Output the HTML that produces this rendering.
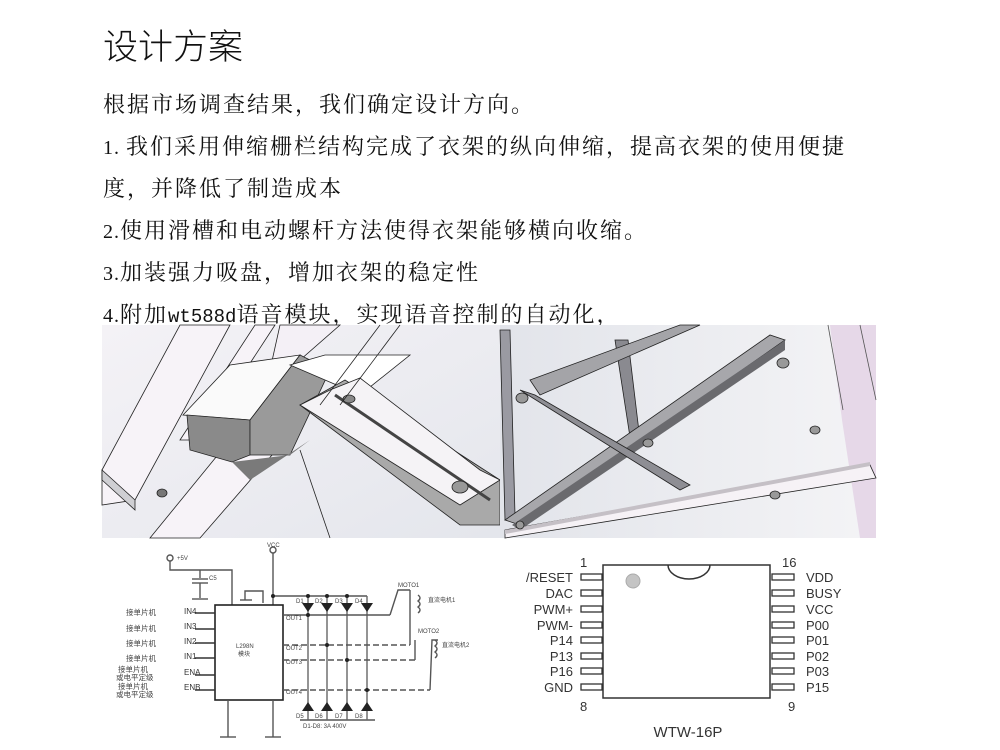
<!DOCTYPE html>
<html><head><meta charset="utf-8">
<style>
body{margin:0;width:1000px;height:750px;background:#fff;position:relative;overflow:hidden;font-family:"Noto Serif CJK SC",serif;color:#111}
.t{position:absolute;left:103px;white-space:nowrap}
.b{font-size:22px;line-height:30px;letter-spacing:2px}
.l{font-family:"Liberation Serif",serif;font-size:20px;letter-spacing:1px}
.m{font-family:"Liberation Mono",monospace;font-size:19px;letter-spacing:0}
svg{position:absolute;left:0;top:0}
</style></head><body>
<div class="t" style="top:23px;font-size:35px;line-height:44px;font-family:'Noto Sans CJK SC',sans-serif;font-weight:300">设计方案</div>
<div class="t b" style="top:89px">根据市场调查结果，我们确定设计方向。</div>
<div class="t b" style="top:131px"><span class="l">1. </span>我们采用伸缩栅栏结构完成了衣架的纵向伸缩，提高衣架的使用便捷</div>
<div class="t b" style="top:173px">度，并降低了制造成本</div>
<div class="t b" style="top:215px"><span class="l">2.</span>使用滑槽和电动螺杆方法使得衣架能够横向收缩。</div>
<div class="t b" style="top:257px"><span class="l">3.</span>加装强力吸盘，增加衣架的稳定性</div>
<div class="t b" style="top:299px"><span class="l">4.</span>附加<span class="m">wt588d</span>语音模块，实现语音控制的自动化，</div>
<svg width="1000" height="750" viewBox="0 0 1000 750">
<defs>
<linearGradient id="g1" x1="0" y1="0" x2="1" y2="1"><stop offset="0" stop-color="#f4f2f6"/><stop offset="1" stop-color="#e4e6ec"/></linearGradient>
<linearGradient id="g2" x1="0" y1="0" x2="1" y2="0"><stop offset="0" stop-color="#e2e4ea"/><stop offset="1" stop-color="#f4f4f6"/></linearGradient>
</defs>
<!-- left render -->
<g stroke="#222" stroke-width="0.8">
<rect x="102" y="325" width="398" height="213" fill="url(#g1)" stroke="none"/>
<polygon points="102,470 180,325 230,325 135,500 102,505" fill="#f7f3f8"/>
<polygon points="102,470 135,500 135,510 102,480" fill="#cfcfd3"/>
<polygon points="150,538 230,440 285,440 200,538" fill="#f7f3f8"/>
<polygon points="255,325 275,325 200,440 180,440" fill="#f7f3f8"/>
<polygon points="280,325 340,325 300,360 270,370" fill="#f4f0f6"/>
<polygon points="183,415 230,365 300,355 250,420" fill="#fafafa"/>
<polygon points="187,415 250,420 250,455 232,462 190,450" fill="#8a8a8a"/>
<polygon points="250,420 300,355 330,370 290,455 250,455" fill="#9a9a9a"/>
<polygon points="290,365 325,355 410,355 360,395" fill="#ffffff"/>
<polygon points="232,462 290,455 310,440 250,480" fill="#7a7a7a" stroke="none"/>
<polygon points="300,405 345,380 500,480 500,525 460,525" fill="#a9a9a9"/>
<polygon points="300,405 330,390 360,378 480,470 500,480 460,505" fill="#f5f3f6"/>
<line x1="335" y1="395" x2="490" y2="500" stroke="#444" stroke-width="3"/>
<ellipse cx="349" cy="399" rx="6" ry="4" fill="#888"/>
<ellipse cx="460" cy="487" rx="8" ry="6" fill="#999"/>
<ellipse cx="162" cy="493" rx="5" ry="4" fill="#777"/>
<line x1="380" y1="325" x2="320" y2="405" />
<line x1="400" y1="325" x2="340" y2="405" />
<line x1="300" y1="450" x2="330" y2="538"/>
</g>
<!-- right render -->
<g stroke="#222" stroke-width="0.8">
<rect x="500" y="325" width="376" height="213" fill="url(#g2)" stroke="none"/>
<polygon points="830,325 876,325 876,538 860,538 842,420" fill="#e6d8e8" stroke="none"/>
<line x1="828" y1="325" x2="843" y2="410" stroke="#555"/>
<line x1="860" y1="325" x2="876" y2="400" stroke="#555"/>
<polygon points="500,330 510,330 515,515 505,520" fill="#9a9aa2"/>
<polygon points="615,340 628,340 640,440 632,450" fill="#8a8a90"/>
<polygon points="505,520 520,525 785,340 770,335" fill="#a7a7ab"/>
<polygon points="778,345 785,340 785,350 520,530 512,525" fill="#6a6a6e" stroke="none"/>
<polygon points="520,390 535,395 690,485 680,490" fill="#8e8e94"/>
<polygon points="530,380 680,325 700,325 540,395" fill="#a4a4a8"/>
<polygon points="505,530 870,465 876,478 505,538" fill="#f6f2f6"/>
<polygon points="505,530 870,462 870,466 505,534" fill="#c5c0c6" stroke="none"/>
<ellipse cx="783" cy="363" rx="6" ry="5" fill="#999"/>
<ellipse cx="522" cy="398" rx="6" ry="5" fill="#999"/>
<ellipse cx="648" cy="443" rx="5" ry="4" fill="#999"/>
<ellipse cx="775" cy="495" rx="5" ry="4" fill="#999"/>
<ellipse cx="815" cy="430" rx="5" ry="4" fill="#999"/>
<ellipse cx="520" cy="525" rx="4" ry="4" fill="#999"/>
</g>
<!-- circuit -->
<g stroke="#555" stroke-width="1.4" fill="none">
<circle cx="170" cy="558" r="3"/>
<polyline points="170,561 170,570 232,570 232,605"/>
<line x1="200" y1="570" x2="200" y2="578"/>
<line x1="192" y1="579" x2="208" y2="579"/><line x1="192" y1="583" x2="208" y2="583"/>
<line x1="200" y1="583" x2="200" y2="598"/><line x1="192" y1="599" x2="208" y2="599"/>
<circle cx="273" cy="550" r="3"/>
<line x1="273" y1="553" x2="273" y2="605"/>
<polyline points="245,600 245,591 263,591 263,603"/><line x1="240" y1="600" x2="252" y2="600"/>
<rect x="215" y="605" width="68" height="95" stroke="#222" stroke-width="1.6"/>
<line x1="228" y1="700" x2="228" y2="737"/><line x1="220" y1="737" x2="236" y2="737"/>
<line x1="273" y1="700" x2="273" y2="737"/><line x1="265" y1="737" x2="281" y2="737"/>
<line x1="273" y1="596" x2="367" y2="596"/>
<line x1="300" y1="720" x2="375" y2="720"/>
<g stroke="#666">
<line x1="308" y1="596" x2="308" y2="720"/><line x1="327" y1="596" x2="327" y2="720"/>
<line x1="347" y1="596" x2="347" y2="720"/><line x1="367" y1="596" x2="367" y2="720"/>
</g>
<line x1="283" y1="615" x2="390" y2="615"/><polyline points="390,615 398,590 410,590"/>
<line x1="283" y1="645" x2="410" y2="645" stroke-dasharray="6,3"/>
<line x1="283" y1="660" x2="415" y2="660" stroke-dasharray="6,3"/>
<line x1="283" y1="690" x2="430" y2="690" stroke-dasharray="6,3"/><polyline points="430,690 432,640 438,640"/>
<polyline points="410,645 410,590"/><polyline points="415,660 415,640"/>
<path d="M418 595 q4 3 0 6 q4 3 0 6 q4 3 0 6"/>
<path d="M435 640 q4 3 0 6 q4 3 0 6 q4 3 0 6"/>
<g stroke="#333">
<line x1="195" y1="613" x2="215" y2="613"/><line x1="195" y1="629" x2="215" y2="629"/>
<line x1="195" y1="643" x2="215" y2="643"/><line x1="195" y1="658" x2="215" y2="658"/>
<line x1="195" y1="675" x2="215" y2="675"/><line x1="195" y1="690" x2="215" y2="690"/>
</g>
</g>
<g fill="#222">
<polygon points="302,603 314,603 308,612"/><polygon points="321,603 333,603 327,612"/>
<polygon points="341,603 353,603 347,612"/><polygon points="361,603 373,603 367,612"/>
<polygon points="302,711 314,711 308,702"/><polygon points="321,711 333,711 327,702"/>
<polygon points="341,711 353,711 347,702"/><polygon points="361,711 373,711 367,702"/>
<circle cx="308" cy="596" r="2"/><circle cx="327" cy="596" r="2"/><circle cx="347" cy="596" r="2"/><circle cx="273" cy="596" r="2"/>
<circle cx="308" cy="615" r="2"/><circle cx="327" cy="645" r="2"/><circle cx="347" cy="660" r="2"/><circle cx="367" cy="690" r="2"/>
</g>
<g font-family="Liberation Sans,'Noto Sans CJK SC',sans-serif" font-size="6" fill="#444">
<text x="177" y="560">+5V</text><text x="267" y="547">VCC</text><text x="209" y="580">C5</text>
<text x="236" y="648">L298N</text><text x="238" y="656">模块</text>
<text x="286" y="620">OUT1</text><text x="286" y="650">OUT2</text><text x="286" y="664">OUT3</text><text x="286" y="694">OUT4</text>
<text x="296" y="603">D1</text><text x="315" y="603">D2</text><text x="335" y="603">D3</text><text x="355" y="603">D4</text>
<text x="296" y="718">D5</text><text x="315" y="718">D6</text><text x="335" y="718">D7</text><text x="355" y="718">D8</text>
<text x="303" y="728">D1-D8: 3A 400V</text>
<text x="398" y="587">MOTO1</text><text x="428" y="602">直流电机1</text>
<text x="418" y="633">MOTO2</text><text x="442" y="647">直流电机2</text>
<g font-size="8" fill="#333">
<text x="184" y="614">IN4</text><text x="184" y="629">IN3</text><text x="184" y="644">IN2</text><text x="184" y="659">IN1</text><text x="184" y="675">ENA</text><text x="184" y="690">ENB</text>
</g>
<g font-size="7.5">
<text x="126" y="615">接单片机</text><text x="126" y="631">接单片机</text><text x="126" y="646">接单片机</text><text x="126" y="661">接单片机</text>
<text x="118" y="672">接单片机</text><text x="116" y="680">或电平定级</text>
<text x="118" y="689">接单片机</text><text x="116" y="697">或电平定级</text>
</g>
</g>
<!-- WTW-16P chip -->
<g stroke="#333" stroke-width="1.5" fill="#fff">
<rect x="603" y="565" width="167" height="133"/>
<path d="M668 565 A21 14 0 0 0 710 565" fill="none"/>
<g stroke-width="1.3">
<rect x="581" y="574" width="21" height="6"/><rect x="581" y="590" width="21" height="6"/><rect x="581" y="606" width="21" height="6"/><rect x="581" y="622" width="21" height="6"/>
<rect x="581" y="637" width="21" height="6"/><rect x="581" y="653" width="21" height="6"/><rect x="581" y="668" width="21" height="6"/><rect x="581" y="684" width="21" height="6"/>
<rect x="772" y="574" width="22" height="6"/><rect x="772" y="590" width="22" height="6"/><rect x="772" y="606" width="22" height="6"/><rect x="772" y="622" width="22" height="6"/>
<rect x="772" y="637" width="22" height="6"/><rect x="772" y="653" width="22" height="6"/><rect x="772" y="668" width="22" height="6"/><rect x="772" y="684" width="22" height="6"/>
</g>
</g>
<circle cx="633" cy="581" r="7" fill="#c4c4c4" stroke="#aaa"/>
<g font-family="Liberation Sans,sans-serif" font-size="13" fill="#333">
<g text-anchor="end">
<text x="573" y="582">/RESET</text><text x="573" y="598">DAC</text><text x="573" y="614">PWM+</text><text x="573" y="630">PWM-</text>
<text x="573" y="645">P14</text><text x="573" y="661">P13</text><text x="573" y="676">P16</text><text x="573" y="692">GND</text>
</g>
<text x="806" y="582">VDD</text><text x="806" y="598">BUSY</text><text x="806" y="614">VCC</text><text x="806" y="630">P00</text>
<text x="806" y="645">P01</text><text x="806" y="661">P02</text><text x="806" y="676">P03</text><text x="806" y="692">P15</text>
<text x="580" y="567">1</text><text x="782" y="567">16</text><text x="580" y="711">8</text><text x="788" y="711">9</text>
<text x="688" y="737" text-anchor="middle" font-size="15">WTW-16P</text>
</g>
</svg>
</body></html>
